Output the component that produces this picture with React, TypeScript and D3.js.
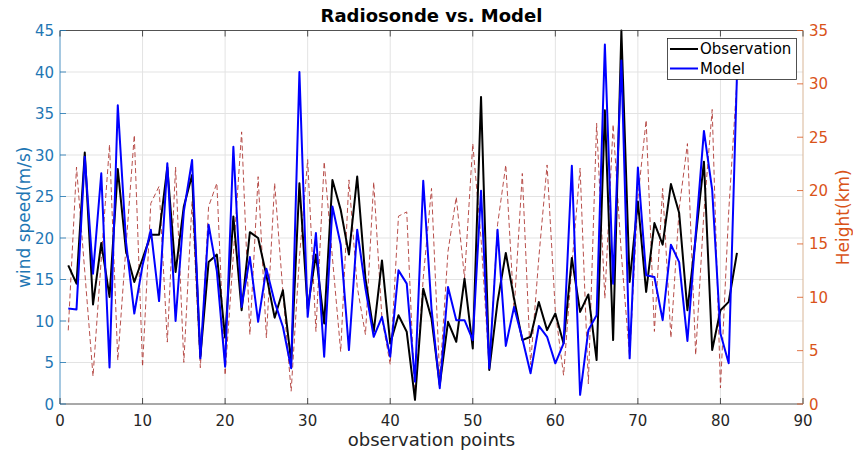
import { useRef, useEffect } from 'react';
import { select, scaleLinear, line, range } from 'd3';

const obsSpeed = [
  16.7, 14.5, 30.3, 12.0, 19.4, 12.9, 28.3, 18.4, 14.7, 17.5,
  20.4, 20.4, 28.5, 15.9, 23.8, 27.6, 5.7, 17.1, 18.0, 8.0,
  22.6, 11.3, 20.7, 20.0, 15.5, 10.4, 13.7, 5.1, 26.6, 11.5,
  18.0, 9.7, 27.0, 23.4, 18.0, 27.4, 15.1, 8.7, 17.3, 7.3,
  10.7, 8.7, 0.5, 13.9, 10.3, 2.3, 9.9, 7.5, 15.1, 6.7,
  37.0, 4.1, 12.3, 18.2, 12.7, 7.7, 8.1, 12.3, 8.9, 10.9,
  7.3, 17.6, 11.1, 13.2, 5.3, 35.4, 7.7, 45.0, 14.7, 24.4,
  13.5, 21.8, 19.2, 26.5, 23.0, 11.3, 20.0, 29.2, 6.5, 11.3,
  12.3, 18.2,
];

const modelSpeed = [
  11.5, 11.4, 29.8, 15.7, 27.8, 4.4, 36.0, 19.5, 10.9, 16.7,
  21.0, 12.4, 29.0, 10.0, 23.2, 29.4, 5.5, 21.6, 16.0, 4.5,
  31.0, 11.7, 17.7, 9.9, 16.3, 12.3, 9.3, 4.3, 40.0, 10.5,
  20.6, 5.7, 23.8, 19.2, 6.5, 21.0, 13.9, 8.1, 10.5, 5.7,
  16.1, 14.5, 2.7, 26.9, 11.5, 1.9, 14.1, 10.1, 10.1, 7.7,
  25.7, 4.3, 21.0, 7.0, 11.7, 7.9, 3.7, 9.4, 8.1, 4.9,
  7.3, 28.7, 1.1, 8.9, 10.7, 43.3, 14.5, 41.4, 5.5, 28.5,
  15.5, 15.3, 10.1, 19.2, 17.1, 7.6, 20.4, 32.9, 25.8, 8.5,
  4.9, 39.6,
];

const heightKm = [
  6.9, 22.2, 12.4, 2.6, 13.6, 24.3, 4.1, 14.8, 25.2, 3.5,
  18.8, 20.4, 5.8, 22.2, 3.9, 19.0, 3.4, 18.5, 20.7, 2.7,
  14.0, 25.5, 6.5, 21.3, 6.2, 20.7, 10.5, 1.2, 13.7, 22.9,
  6.8, 22.7, 13.7, 4.9, 21.0, 11.0, 6.5, 20.8, 8.0, 3.7,
  17.6, 18.0, 0.4, 11.8, 20.2, 2.4, 14.3, 19.4, 11.8, 24.4,
  15.5, 3.3, 16.8, 22.4, 8.7, 21.6, 3.7, 13.7, 22.4, 8.7,
  2.7, 13.0, 22.1, 1.9, 26.3, 9.9, 26.2, 14.0, 4.3, 19.3,
  26.6, 6.8, 20.2, 6.2, 18.3, 24.4, 4.6, 18.0, 27.6, 1.5,
  18.0, 30.4,
];

const xTicks = [0, 10, 20, 30, 40, 50, 60, 70, 80, 90];
const leftTicks = [0, 5, 10, 15, 20, 25, 30, 35, 40, 45];
const rightTicks = [0, 5, 10, 15, 20, 25, 30, 35];

const W = 853;
const H = 454;
const L = 60;
const R = 803;
const T = 30.5;
const B = 404;
const FONT = 'DejaVu Sans, sans-serif';
const BLUE_AX = '#1f77b4';
const ORANGE = '#D95319';

const App = () => {
  const svgRef = useRef<SVGSVGElement>(null);

  useEffect(() => {
    const svg = select(svgRef.current);
    svg.selectAll('*').remove();

    const x = scaleLinear().domain([0, 90]).range([L, R]);
    const yL = scaleLinear().domain([0, 45]).range([B, T]);
    const yR = scaleLinear().domain([0, 35]).range([B, T]);
    const pts = range(1, obsSpeed.length + 1);

    svg.append('rect').attr('x', L).attr('y', T).attr('width', R - L).attr('height', B - T).attr('fill', '#fff');

    // grid
    const grid = svg.append('g').attr('stroke', '#e3e3e3').attr('stroke-width', 1);
    xTicks.slice(1, -1).forEach((t) => {
      grid.append('line').attr('x1', x(t)).attr('x2', x(t)).attr('y1', T).attr('y2', B);
    });
    leftTicks.slice(1, -1).forEach((t) => {
      grid.append('line').attr('x1', L).attr('x2', R).attr('y1', yL(t)).attr('y2', yL(t));
    });

    const plot = svg.append('g');
    const hLine = line<number>().x((d, i) => x(pts[i])).y((d) => yR(d));
    const sLine = line<number>().x((d, i) => x(pts[i])).y((d) => yL(d));

    plot.append('path').attr('d', hLine(heightKm)).attr('fill', 'none')
      .attr('stroke', '#b03c38').attr('stroke-width', 0.9).attr('stroke-dasharray', '5,3');
    plot.append('path').attr('d', sLine(obsSpeed)).attr('fill', 'none')
      .attr('stroke', '#000').attr('stroke-width', 2).attr('stroke-linejoin', 'round');
    plot.append('path').attr('d', sLine(modelSpeed)).attr('fill', 'none')
      .attr('stroke', '#0000ff').attr('stroke-width', 2).attr('stroke-linejoin', 'round');

    // box + axes
    svg.append('line').attr('x1', L).attr('x2', R).attr('y1', T).attr('y2', T).attr('stroke', '#262626').attr('stroke-width', 0.8);
    svg.append('line').attr('x1', L).attr('x2', R).attr('y1', B).attr('y2', B).attr('stroke', '#262626').attr('stroke-width', 0.8);
    svg.append('line').attr('x1', L).attr('x2', L).attr('y1', T).attr('y2', B).attr('stroke', BLUE_AX).attr('stroke-width', 0.8);
    svg.append('line').attr('x1', R).attr('x2', R).attr('y1', T).attr('y2', B).attr('stroke', '#d8b596').attr('stroke-width', 1);

    const ax = svg.append('g').attr('font-family', FONT).attr('font-size', 15);
    xTicks.forEach((t) => {
      ax.append('line').attr('x1', x(t)).attr('x2', x(t)).attr('y1', B).attr('y2', B - 6).attr('stroke', '#262626').attr('stroke-width', 0.8);
      ax.append('line').attr('x1', x(t)).attr('x2', x(t)).attr('y1', T).attr('y2', T + 6).attr('stroke', '#262626').attr('stroke-width', 0.8);
      ax.append('text').attr('x', x(t)).attr('y', 426).attr('text-anchor', 'middle').attr('fill', '#262626').text(t);
    });
    leftTicks.forEach((t) => {
      ax.append('line').attr('x1', L).attr('x2', L + 6).attr('y1', yL(t)).attr('y2', yL(t)).attr('stroke', BLUE_AX).attr('stroke-width', 0.8);
      ax.append('text').attr('x', 54).attr('y', yL(t) + 5.5).attr('text-anchor', 'end').attr('fill', BLUE_AX).text(t);
    });
    rightTicks.forEach((t) => {
      ax.append('line').attr('x1', R - 6).attr('x2', R).attr('y1', yR(t)).attr('y2', yR(t)).attr('stroke', ORANGE).attr('stroke-width', 0.8);
      ax.append('text').attr('x', 809).attr('y', yR(t) + 5.5).attr('text-anchor', 'start').attr('fill', ORANGE).text(t);
    });

    svg.append('text').attr('x', (L + R) / 2).attr('y', 22).attr('text-anchor', 'middle')
      .attr('font-family', FONT).attr('font-size', 18).attr('font-weight', 'bold').attr('fill', '#000')
      .text('Radiosonde vs. Model');
    svg.append('text').attr('x', (L + R) / 2).attr('y', 446).attr('text-anchor', 'middle')
      .attr('font-family', FONT).attr('font-size', 18).attr('fill', '#262626')
      .text('observation points');
    svg.append('text').attr('transform', `translate(30,${(T + B) / 2}) rotate(-90)`).attr('text-anchor', 'middle')
      .attr('font-family', FONT).attr('font-size', 17).attr('fill', BLUE_AX)
      .text('wind speed(m/s)');
    svg.append('text').attr('transform', `translate(849,${(T + B) / 2}) rotate(-90)`).attr('text-anchor', 'middle')
      .attr('font-family', FONT).attr('font-size', 17).attr('fill', ORANGE)
      .text('Height(km)');

    // legend
    const lg = svg.append('g').attr('font-family', FONT).attr('font-size', 15);
    lg.append('rect').attr('x', 667.5).attr('y', 38.5).attr('width', 129).attr('height', 41)
      .attr('fill', '#fff').attr('stroke', '#262626').attr('stroke-width', 0.8);
    [['Observation', '#000'], ['Model', '#0000ff']].forEach(([name, c], i) => {
      const yy = 49 + i * 19.5;
      lg.append('line').attr('x1', 670).attr('x2', 698).attr('y1', yy).attr('y2', yy).attr('stroke', c).attr('stroke-width', 2);
      lg.append('text').attr('x', 700).attr('y', yy + 5).attr('fill', '#000').text(name);
    });
  }, []);

  return (
    <svg ref={svgRef} width={W} height={H} style={{ position: 'absolute', left: 0, top: 0, background: '#fff' }} />
  );
};

export default App;
